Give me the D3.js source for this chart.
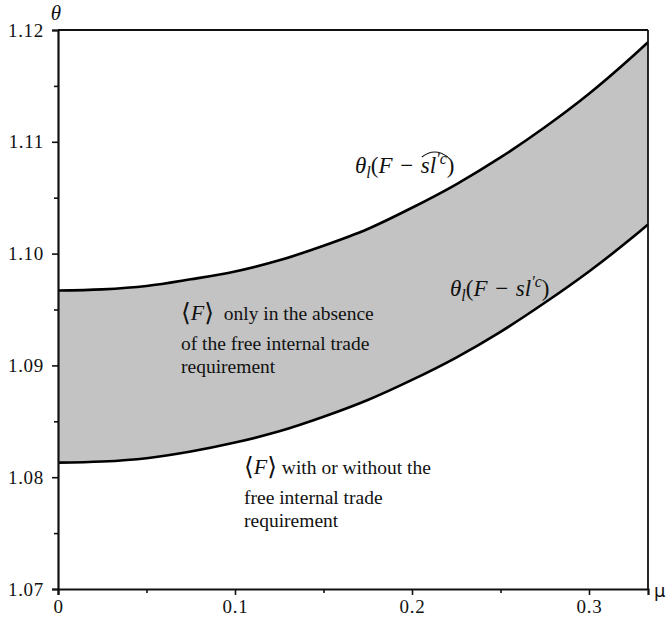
<!DOCTYPE html>
<html>
<head>
<meta charset="utf-8">
<script src="https://cdn.jsdelivr.net/npm/d3@7"></script>
<style>
  body { margin: 0; background: #fff; }
  text { font-family: "Liberation Serif", "Times New Roman", "DejaVu Serif", serif; fill: #111; }
  .tick text { font-size: 19px; }
</style>
</head>
<body>
<svg id="chart" width="668" height="617"></svg>
<script>
// values
const mu = [0, 0.025, 0.05, 0.075, 0.1, 0.125, 0.15, 0.175, 0.2, 0.225, 0.25, 0.275, 0.3, 0.325, 1 / 3];
const upper = [1.0967, 1.0968, 1.0971, 1.0977, 1.0984, 1.0994, 1.1007, 1.1022, 1.1041, 1.1062, 1.1086, 1.1113, 1.1143, 1.1177, 1.1189];
const lower = [1.0813, 1.0814, 1.0817, 1.0823, 1.0831, 1.0841, 1.0854, 1.0869, 1.0887, 1.0907, 1.0930, 1.0956, 1.0984, 1.1015, 1.1026];

const xTicks = [0, 0.1, 0.2, 0.3];
const xMinor = [0.05, 0.15, 0.25];
const yTicks = [1.07, 1.08, 1.09, 1.10, 1.11, 1.12];
const yMinor = [1.075, 1.085, 1.095, 1.105, 1.115];

const svg = d3.select("#chart");
const plotL = 58, plotR = 648, plotT = 30, plotB = 589;

const x = d3.scaleLinear().domain([0, 1 / 3]).range([plotL, plotR]);
const y = d3.scaleLinear().domain([1.07, 1.12]).range([plotB, plotT]);

const pts = mu.map((m, i) => ({ m: m, hi: upper[i], lo: lower[i] }));

// shaded band between the two curves
svg.append("path")
    .datum(pts)
    .attr("fill", "#c3c3c3")
    .attr("d", d3.area()
        .x(d => x(d.m))
        .y0(d => y(d.lo))
        .y1(d => y(d.hi))
        .curve(d3.curveMonotoneX));

const line = d3.line().curve(d3.curveMonotoneX).x(d => x(d[0])).y(d => y(d[1]));
[upper, lower].forEach(function (series) {
    svg.append("path")
        .datum(mu.map((m, i) => [m, series[i]]))
        .attr("fill", "none")
        .attr("stroke", "#000")
        .attr("stroke-width", 2.6)
        .attr("d", line);
});

// frame on top and right
svg.append("line").attr("x1", plotL).attr("x2", plotR).attr("y1", plotT).attr("y2", plotT)
    .attr("stroke", "#111").attr("stroke-width", 1.8);
svg.append("line").attr("x1", plotR).attr("x2", plotR).attr("y1", plotT).attr("y2", plotB)
    .attr("stroke", "#111").attr("stroke-width", 1.8);

// axes
svg.append("g").attr("transform", "translate(0," + plotB + ")")
    .call(d3.axisBottom(x).tickValues(xTicks).tickSize(6).tickPadding(5)
        .tickFormat(d => d === 0 ? "0" : d3.format(".1f")(d)));
svg.append("g").attr("transform", "translate(0," + plotB + ")")
    .call(d3.axisBottom(x).tickValues(xMinor).tickSize(4).tickFormat(""))
    .select(".domain").remove();

svg.append("g").attr("transform", "translate(" + plotL + ",0)")
    .call(d3.axisLeft(y).tickValues(yTicks).tickSize(6).tickPadding(8).tickFormat(d3.format(".2f")));
svg.append("g").attr("transform", "translate(" + plotL + ",0)")
    .call(d3.axisLeft(y).tickValues(yMinor).tickSize(4).tickFormat(""))
    .select(".domain").remove();

svg.selectAll(".domain").attr("stroke", "#111").attr("stroke-width", 2.2);
svg.selectAll(".tick line").attr("stroke", "#111").attr("stroke-width", 1.6);
svg.selectAll(".tick text").attr("fill", "#222").style("letter-spacing", "0.7px");

// axis names
svg.append("text").attr("x", 56).attr("y", 20).attr("text-anchor", "middle")
    .style("font-style", "italic").style("font-size", "21px").text("θ");
svg.append("text").attr("x", 654).attr("y", 597)
    .style("font-size", "18px").style("font-family", "DejaVu Sans").text("μ");

// curve labels
function thetaLabel(px, py, withHat) {
    const t = svg.append("text").attr("x", px).attr("y", py).style("font-size", "23px");
    t.append("tspan").style("font-style", "italic").text("θ");
    t.append("tspan").style("font-style", "italic").style("font-size", "16px").attr("dy", 5).text("l");
    t.append("tspan").attr("dy", -5).text("(");
    t.append("tspan").style("font-style", "italic").text("F");
    t.append("tspan").text("\u2004−\u2004");
    t.append("tspan").style("font-style", "italic").text("sl");
    t.append("tspan").style("font-style", "italic").style("font-size", "16px").attr("dy", -9).text("′c");
    t.append("tspan").attr("dy", 9).text(")");
    if (withHat) {
        const node = t.node();
        const sIdx = node.textContent.indexOf("s");
        const a = node.getExtentOfChar(sIdx);
        const b = node.getExtentOfChar(sIdx + 3);
        const x0 = a.x + 1, x1 = b.x + b.width + 1, yb = py - 16;
        svg.append("path")
            .attr("d", "M" + x0 + "," + yb + " Q" + ((x0 + x1) / 2) + "," + (yb - 10) + " " + x1 + "," + yb)
            .attr("fill", "none").attr("stroke", "#111").attr("stroke-width", 1.1);
    }
}
thetaLabel(355, 173, true);
thetaLabel(450, 296, false);

// region notes
function note(px, py, lines) {
    const t = svg.append("text").attr("x", px).attr("y", py).style("font-size", "19.5px");
    t.append("tspan").style("font-size", "25px").attr("dy", 1).text("⟨");
    t.append("tspan").style("font-style", "italic").style("font-size", "22px").attr("dy", -1).text("F");
    t.append("tspan").style("font-size", "25px").attr("dy", 1).text("⟩");
    t.append("tspan").attr("dy", -1).text(lines[0]);
    t.append("tspan").attr("x", px).attr("dy", 30).text(lines[1]);
    t.append("tspan").attr("x", px).attr("dy", 23).text(lines[2]);
}
note(181, 320, ["\u2002only in the absence", "of the free internal trade", "requirement"]);
note(244, 474, [" with or without the", "free internal trade", "requirement"]);
</script>
</body>
</html>
